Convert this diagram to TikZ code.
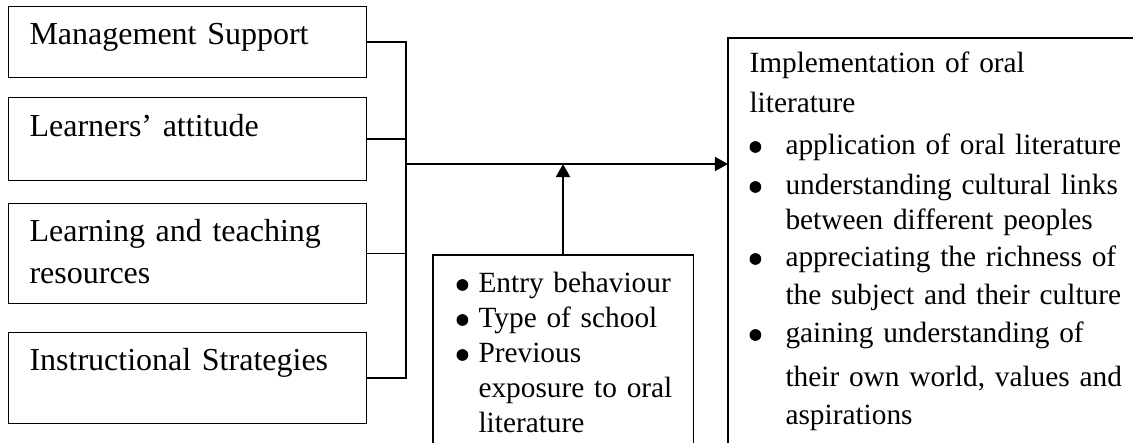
\documentclass[tikz,border=0pt]{standalone}
\usepackage{fontspec}
\setmainfont{Liberation Serif}
\usetikzlibrary{arrows.meta}

\tikzset{
  factor/.style={draw,anchor=north west,minimum width=134.25pt,inner sep=0pt},
  framebox/.style={anchor=north west,inner sep=0pt},
  boxtext/.style={anchor=base west,inner sep=0pt,align=left,text width=#1,
    font=\fontsize{12pt}{15.4pt}\selectfont},
  boxtext/.default=160pt,
  flow/.style={->,line width=0.75pt},
}
\newcommand\bul[1]{\makebox[#1][l]{\tikz[baseline=-3pt]\fill (0,0) circle[radius=2.2pt];}}

\begin{document}
\begin{tikzpicture}[x=0.375pt,y=-0.375pt,>={Triangle[length=4.9pt,width=5.25pt]},line width=0.4pt]
\useasboundingbox (0,0) rectangle (1133,443);
% factors on the left
\node[factor,minimum height=26.625pt] (mgmt) at (8,6) {};
\node[factor,minimum height=31.125pt] (attitude) at (8,97) {};
\node[factor,minimum height=37.5pt] (resources) at (8,203) {};
\node[factor,minimum height=34.125pt] (strategies) at (8,332) {};
\node[boxtext] (mgmt text) at (29,45) {Management Support};
\node[boxtext] (attitude text) at (29,137) {Learners’ attitude};
\node[boxtext] (resources text) at (29,242) {Learning and teaching\\resources};
\node[boxtext] (strategies text) at (29,371) {Instructional Strategies};

% bus line
\coordinate (bus) at (406,0);
\coordinate (join) at (406,164);
\draw (mgmt.east) -- (mgmt.east -| bus) -- (strategies.east -| bus) -- (strategies.east);
\draw (attitude.east) -- (attitude.east -| bus);
\draw (resources.east) -- (resources.east -| bus);

% outcome box (runs off the page)
\node[framebox,minimum width=151.875pt,minimum height=151.875pt] (impl) at (728,38) {};
\draw (impl.north east) -- (impl.north west) -- (impl.south west);
\node[boxtext=150pt,font=\fontsize{11pt}{13.125pt}\selectfont] (impl text) at (749,73) {%
  Implementation of oral\\[1.875pt]
  literature\\[2.625pt]
  \bul{13.5pt}application of oral literature\\[1.875pt]
  \bul{13.5pt}understanding cultural links\\
  \hspace*{13.5pt}between different peoples\\[0.75pt]
  \bul{13.5pt}appreciating the richness of\\[1.125pt]
  \hspace*{13.5pt}the subject and their culture\\[1.125pt]
  \bul{13.5pt}gaining understanding of\\[3.375pt]
  \hspace*{13.5pt}their own world, values and\\[1.125pt]
  \hspace*{13.5pt}aspirations};

% intervening box (runs off the page)
\node[framebox,minimum width=97.125pt,minimum height=70.5pt] (prior) at (433,255) {};
\draw (prior.south west) -- (prior.north west) -- (prior.north east) -- (prior.south east);
\node[boxtext=100pt,font=\fontsize{11pt}{13.125pt}\selectfont] (prior text) at (456,293) {%
  \bul{8.25pt}Entry behaviour\\
  \bul{8.25pt}Type of school\\
  \bul{8.25pt}Previous\\
  \hspace*{8.25pt}exposure to oral\\
  \hspace*{8.25pt}literature};

% arrows
\draw[flow] (join) -- (join -| impl.west);
\draw[flow] (prior.north) -- (prior.north |- join);
\end{tikzpicture}
\end{document}
